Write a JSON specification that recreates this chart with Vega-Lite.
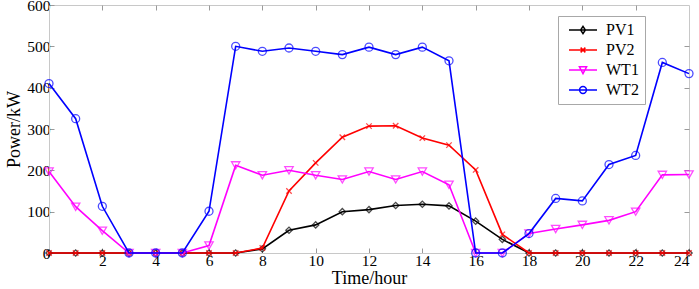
{
  "$schema": "https://vega.github.io/schema/vega-lite/v6.json",
  "width": 640,
  "height": 248,
  "autosize": {"type": "none"},
  "padding": {"left": 49, "top": 5, "right": 10, "bottom": 36},
  "background": "white",
  "config": {
    "view": {"stroke": "#c8c8c8", "strokeWidth": 1},
    "font": "Liberation Serif",
    "axis": {
      "grid": false,
      "domainColor": "#c8c8c8",
      "tickColor": "#9a9a9a",
      "tickSize": -5,
      "labelFont": "Liberation Serif",
      "labelFontSize": 15.5,
      "labelColor": "black",
      "titleFont": "Liberation Serif",
      "titleFontSize": 18,
      "titleFontWeight": "normal",
      "titleColor": "black"
    }
  },
  "data": {
    "values": [
      {"hour": 0, "power": 0, "series": "PV1"},
      {"hour": 1, "power": 0, "series": "PV1"},
      {"hour": 2, "power": 0, "series": "PV1"},
      {"hour": 3, "power": 0, "series": "PV1"},
      {"hour": 4, "power": 0, "series": "PV1"},
      {"hour": 5, "power": 0, "series": "PV1"},
      {"hour": 6, "power": 0, "series": "PV1"},
      {"hour": 7, "power": 0, "series": "PV1"},
      {"hour": 8, "power": 10, "series": "PV1"},
      {"hour": 9, "power": 55, "series": "PV1"},
      {"hour": 10, "power": 68, "series": "PV1"},
      {"hour": 11, "power": 100, "series": "PV1"},
      {"hour": 12, "power": 105, "series": "PV1"},
      {"hour": 13, "power": 115, "series": "PV1"},
      {"hour": 14, "power": 118, "series": "PV1"},
      {"hour": 15, "power": 114, "series": "PV1"},
      {"hour": 16, "power": 77, "series": "PV1"},
      {"hour": 17, "power": 33, "series": "PV1"},
      {"hour": 18, "power": 0, "series": "PV1"},
      {"hour": 19, "power": 0, "series": "PV1"},
      {"hour": 20, "power": 0, "series": "PV1"},
      {"hour": 21, "power": 0, "series": "PV1"},
      {"hour": 22, "power": 0, "series": "PV1"},
      {"hour": 23, "power": 0, "series": "PV1"},
      {"hour": 24, "power": 0, "series": "PV1"},
      {"hour": 0, "power": 0, "series": "PV2"},
      {"hour": 1, "power": 0, "series": "PV2"},
      {"hour": 2, "power": 0, "series": "PV2"},
      {"hour": 3, "power": 0, "series": "PV2"},
      {"hour": 4, "power": 0, "series": "PV2"},
      {"hour": 5, "power": 0, "series": "PV2"},
      {"hour": 6, "power": 0, "series": "PV2"},
      {"hour": 7, "power": 0, "series": "PV2"},
      {"hour": 8, "power": 12, "series": "PV2"},
      {"hour": 9, "power": 150, "series": "PV2"},
      {"hour": 10, "power": 218, "series": "PV2"},
      {"hour": 11, "power": 280, "series": "PV2"},
      {"hour": 12, "power": 307, "series": "PV2"},
      {"hour": 13, "power": 308, "series": "PV2"},
      {"hour": 14, "power": 278, "series": "PV2"},
      {"hour": 15, "power": 261, "series": "PV2"},
      {"hour": 16, "power": 201, "series": "PV2"},
      {"hour": 17, "power": 45, "series": "PV2"},
      {"hour": 18, "power": 0, "series": "PV2"},
      {"hour": 19, "power": 0, "series": "PV2"},
      {"hour": 20, "power": 0, "series": "PV2"},
      {"hour": 21, "power": 0, "series": "PV2"},
      {"hour": 22, "power": 0, "series": "PV2"},
      {"hour": 23, "power": 0, "series": "PV2"},
      {"hour": 24, "power": 0, "series": "PV2"},
      {"hour": 0, "power": 197, "series": "WT1"},
      {"hour": 1, "power": 112, "series": "WT1"},
      {"hour": 2, "power": 54, "series": "WT1"},
      {"hour": 3, "power": 0, "series": "WT1"},
      {"hour": 4, "power": 0, "series": "WT1"},
      {"hour": 5, "power": 0, "series": "WT1"},
      {"hour": 6, "power": 18, "series": "WT1"},
      {"hour": 7, "power": 212, "series": "WT1"},
      {"hour": 8, "power": 188, "series": "WT1"},
      {"hour": 9, "power": 200, "series": "WT1"},
      {"hour": 10, "power": 188, "series": "WT1"},
      {"hour": 11, "power": 178, "series": "WT1"},
      {"hour": 12, "power": 197, "series": "WT1"},
      {"hour": 13, "power": 178, "series": "WT1"},
      {"hour": 14, "power": 197, "series": "WT1"},
      {"hour": 15, "power": 165, "series": "WT1"},
      {"hour": 16, "power": 0, "series": "WT1"},
      {"hour": 17, "power": 0, "series": "WT1"},
      {"hour": 18, "power": 47, "series": "WT1"},
      {"hour": 19, "power": 58, "series": "WT1"},
      {"hour": 20, "power": 68, "series": "WT1"},
      {"hour": 21, "power": 79, "series": "WT1"},
      {"hour": 22, "power": 100, "series": "WT1"},
      {"hour": 23, "power": 189, "series": "WT1"},
      {"hour": 24, "power": 190, "series": "WT1"},
      {"hour": 0, "power": 410, "series": "WT2"},
      {"hour": 1, "power": 325, "series": "WT2"},
      {"hour": 2, "power": 113, "series": "WT2"},
      {"hour": 3, "power": 0, "series": "WT2"},
      {"hour": 4, "power": 0, "series": "WT2"},
      {"hour": 5, "power": 0, "series": "WT2"},
      {"hour": 6, "power": 101, "series": "WT2"},
      {"hour": 7, "power": 500, "series": "WT2"},
      {"hour": 8, "power": 488, "series": "WT2"},
      {"hour": 9, "power": 496, "series": "WT2"},
      {"hour": 10, "power": 488, "series": "WT2"},
      {"hour": 11, "power": 480, "series": "WT2"},
      {"hour": 12, "power": 498, "series": "WT2"},
      {"hour": 13, "power": 480, "series": "WT2"},
      {"hour": 14, "power": 498, "series": "WT2"},
      {"hour": 15, "power": 465, "series": "WT2"},
      {"hour": 16, "power": 0, "series": "WT2"},
      {"hour": 17, "power": 0, "series": "WT2"},
      {"hour": 18, "power": 47, "series": "WT2"},
      {"hour": 19, "power": 132, "series": "WT2"},
      {"hour": 20, "power": 126, "series": "WT2"},
      {"hour": 21, "power": 214, "series": "WT2"},
      {"hour": 22, "power": 236, "series": "WT2"},
      {"hour": 23, "power": 461, "series": "WT2"},
      {"hour": 24, "power": 434, "series": "WT2"}
    ]
  },
  "layer": [
    {
      "transform": [{"filter": "datum.series === 'PV1'"}],
      "mark": {"type": "line", "strokeWidth": 1.6},
      "encoding": {
        "x": {"field": "hour", "type": "quantitative", "scale": {"domain": [0, 24], "nice": false, "zero": false},
              "axis": {"values": [2, 4, 6, 8, 10, 12, 14, 16, 18, 20, 22, 24], "title": "Time/hour", "labelPadding": 5, "titlePadding": 1}},
        "y": {"field": "power", "type": "quantitative", "scale": {"domain": [0, 600], "nice": false},
              "axis": {"values": [0, 100, 200, 300, 400, 500, 600], "title": "Power/kW", "labelPadding": 4, "titlePadding": 3}},
        "color": {"field": "series", "type": "nominal",
                  "scale": {"domain": ["PV1", "PV2", "WT1", "WT2"], "range": ["#000000", "#ff0000", "#ff00ff", "#0000ff"]},
                  "legend": {
                    "orient": "none", "legendX": 509, "legendY": 11, "title": null,
                    "strokeColor": "#a8a8a8", "fillColor": "white", "padding": 6,
                    "labelFont": "Liberation Serif", "labelFontSize": 16, "labelColor": "black",
                    "symbolSize": 64, "symbolOffset": 11, "labelOffset": 15, "rowPadding": 4,
                    "symbolStrokeWidth": 1.5,
                    "encode": {"symbols": {"update": {
                      "shape": {"signal": "datum.value === 'PV1' ? 'M-3.5,0L3.5,0M0,-0.9L0.6,0L0,0.9L-0.6,0Z' : datum.value === 'PV2' ? 'M-3.5,0L3.5,0M-0.6,-0.6L0.6,0.6M-0.6,0.6L0.6,-0.6' : datum.value === 'WT1' ? 'M-3.5,0L3.5,0M-0.9,-0.8L0.9,-0.8L0,0.9Z' : 'M-3.5,0L3.5,0M-0.85,0A0.85,0.85 0 1,0 0.85,0A0.85,0.85 0 1,0 -0.85,0'"},
                      "fill": {"value": "white"},
                      "strokeWidth": {"value": 1.5}
                    }}}
                  }},
        "order": {"field": "hour", "type": "quantitative"}
      }
    },
    {
      "transform": [{"filter": "datum.series === 'PV1'"}],
      "mark": {"type": "point", "filled": false, "strokeWidth": 1.3, "shape": "diamond", "size": 40},
      "encoding": {
        "x": {"field": "hour", "type": "quantitative", "axis": null},
        "y": {"field": "power", "type": "quantitative", "axis": null},
        "color": {"field": "series", "type": "nominal"}
      }
    },
    {
      "transform": [{"filter": "datum.series === 'PV2'"}],
      "mark": {"type": "line", "strokeWidth": 1.6},
      "encoding": {
        "x": {"field": "hour", "type": "quantitative", "axis": null},
        "y": {"field": "power", "type": "quantitative", "axis": null},
        "color": {"field": "series", "type": "nominal"},
        "order": {"field": "hour", "type": "quantitative"}
      }
    },
    {
      "transform": [{"filter": "datum.series === 'PV2'"}],
      "mark": {"type": "point", "filled": false, "strokeWidth": 1.3, "shape": "M-1,-1L1,1M-1,1L1,-1", "size": 30},
      "encoding": {
        "x": {"field": "hour", "type": "quantitative", "axis": null},
        "y": {"field": "power", "type": "quantitative", "axis": null},
        "color": {"field": "series", "type": "nominal"}
      }
    },
    {
      "transform": [{"filter": "datum.series === 'WT1'"}],
      "mark": {"type": "line", "strokeWidth": 1.6},
      "encoding": {
        "x": {"field": "hour", "type": "quantitative", "axis": null},
        "y": {"field": "power", "type": "quantitative", "axis": null},
        "color": {"field": "series", "type": "nominal"},
        "order": {"field": "hour", "type": "quantitative"}
      }
    },
    {
      "transform": [{"filter": "datum.series === 'WT1'"}],
      "mark": {"type": "point", "filled": false, "strokeWidth": 1.3, "shape": "triangle-down", "size": 70},
      "encoding": {
        "x": {"field": "hour", "type": "quantitative", "axis": null},
        "y": {"field": "power", "type": "quantitative", "axis": null},
        "color": {"field": "series", "type": "nominal"}
      }
    },
    {
      "transform": [{"filter": "datum.series === 'WT2'"}],
      "mark": {"type": "line", "strokeWidth": 1.6},
      "encoding": {
        "x": {"field": "hour", "type": "quantitative", "axis": null},
        "y": {"field": "power", "type": "quantitative", "axis": null},
        "color": {"field": "series", "type": "nominal"},
        "order": {"field": "hour", "type": "quantitative"}
      }
    },
    {
      "transform": [{"filter": "datum.series === 'WT2'"}],
      "mark": {"type": "point", "filled": false, "strokeWidth": 1.3, "shape": "circle", "size": 64},
      "encoding": {
        "x": {"field": "hour", "type": "quantitative", "axis": null},
        "y": {"field": "power", "type": "quantitative", "axis": null},
        "color": {"field": "series", "type": "nominal"}
      }
    },
    {
      "mark": {"type": "point", "opacity": 0},
      "encoding": {
        "x": {"field": "hour", "type": "quantitative", "axis": {"orient": "top", "values": [2, 4, 6, 8, 10, 12, 14, 16, 18, 20, 22], "labels": false, "title": null, "domain": false}},
        "y": {"field": "power", "type": "quantitative", "axis": {"orient": "right", "values": [100, 200, 300, 400, 500], "labels": false, "title": null, "domain": false}}
      }
    }
  ],
  "resolve": {"axis": {"x": "independent", "y": "independent"}}
}
